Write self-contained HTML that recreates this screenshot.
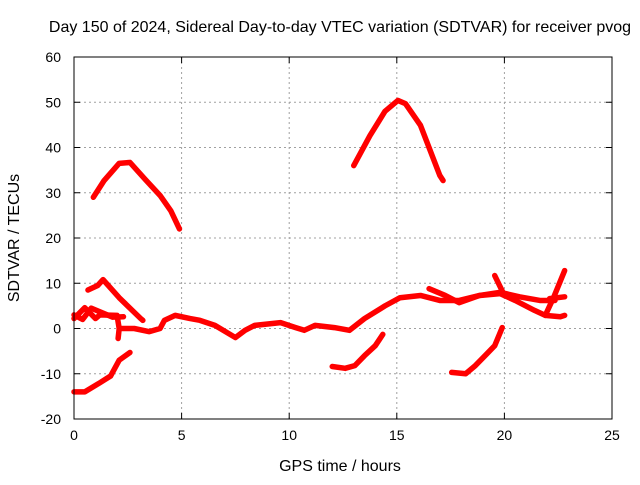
<!DOCTYPE html>
<html><head><meta charset="utf-8"><style>
body{margin:0;background:#fff;font-family:"Liberation Sans",sans-serif}
svg text{font-family:"Liberation Sans",sans-serif;font-size:14px;fill:#000}
svg text.big{font-size:16px}
</style></head><body>
<svg id="chart" width="640" height="480">
<text class="big" x="340" y="32" text-anchor="middle">Day 150 of 2024, Sidereal Day-to-day VTEC variation (SDTVAR) for receiver pvog</text>
<text class="big" x="340" y="471" text-anchor="middle">GPS time / hours</text>
<text class="big" transform="translate(19,238) rotate(-90)" text-anchor="middle">SDTVAR / TECUs</text>
<g id="grid"></g><g id="ticks"></g><g id="series"></g>
<rect x="74" y="57" width="538" height="362" fill="none" stroke="#000" stroke-width="1"/>
</svg>
<script>
const xTicks=[0,5,10,15,20,25];
const yTicks=[-20,-10,0,10,20,30,40,50,60];
const arcMorning=[[0.9,29],[1.4,32.7],[2.1,36.5],[2.6,36.7],[3.3,33],[4,29.4],[4.5,26],[4.9,22]];
const arcAfternoon=[[13,36],[13.75,42.6],[14.45,48],[15.05,50.4],[15.4,49.7],[16.1,44.9],[17,33.8],[17.15,32.7]];
const lowEarly=[[0,-14],[0.5,-14],[1.2,-12],[1.7,-10.5],[2.1,-7],[2.6,-5.3]];
const peakEarly=[[0.65,8.5],[1.1,9.5],[1.35,10.8],[2.1,6.8],[3.1,2.2],[3.2,1.8]];
const mainTrack=[[0,2.2],[0.5,4.6],[1,2.2],[1.2,3],[2,2.9],[2.1,0],[2.05,-2.2],[2.1,0],[2.8,0],[3.5,-0.7],[4,0],[4.2,1.8],[4.7,2.9],[5.4,2.2],[5.85,1.8],[6.55,0.7],[7.5,-2],[7.95,-0.4],[8.4,0.7],[9.6,1.3],[10.3,0.2],[10.7,-0.4],[11.2,0.7],[12.1,0.2],[12.8,-0.4],[13.5,2.2],[14.45,5],[15.15,6.8],[16.1,7.3],[17,6.2],[17.9,6.2],[18.85,7.3],[19.8,7.7],[20.5,6.2],[21.4,4],[21.9,2.9],[22.6,2.6],[22.8,2.9]];
const earlyBranch=[[0,3],[0.4,2],[0.8,4.5],[1.3,3.5],[1.8,2.5],[2.3,2.6]];
const lateTrack=[[16.5,8.8],[17.25,7.3],[17.9,5.7],[18.85,7.3],[19.8,8],[20.7,7],[21.65,6.2],[22.35,6.2]];
const spikeLate=[[21.9,2.9],[22.3,7],[22.8,12.8]];
const spikeMid=[[19.55,11.7],[20,7.3]];
const tailLate=[[22.1,6.6],[22.8,7]];
const lowNoon=[[12,-8.4],[12.6,-8.8],[13.05,-8.2],[13.5,-6],[14,-3.8],[14.35,-1.3]];
const lowEvening=[[17.55,-9.7],[18.2,-10],[18.65,-8.2],[19.1,-6],[19.55,-3.8],[19.9,0.2]];
const seriesList=[arcMorning,arcAfternoon,lowEarly,peakEarly,mainTrack,earlyBranch,lateTrack,spikeLate,spikeMid,tailLate,lowNoon,lowEvening];
const NS="http://www.w3.org/2000/svg";
const X0=74,X1=612,Y0=419,Y1=57;
function sx(h){return X0+(h-0)/(25-0)*(X1-X0);}
function sy(v){return Y0-(v+20)/(80)*(Y0-Y1);}
const grid=document.getElementById('grid'),ticks=document.getElementById('ticks'),ser=document.getElementById('series');
function mk(tag,attrs,parent){const e=document.createElementNS(NS,tag);for(const k in attrs)e.setAttribute(k,attrs[k]);parent.appendChild(e);return e;}
xTicks.forEach(t=>{const x=sx(t);
 if(t>0&&t<25){const g=mk('line',{x1:x,x2:x,y1:Y1,y2:Y0,stroke:'#a0a0a0','stroke-dasharray':'2,3'},grid);
 
 }
 mk('line',{x1:x,x2:x,y1:Y0,y2:Y0-6,stroke:'#000'},ticks);mk('line',{x1:x,x2:x,y1:Y1,y2:Y1+6,stroke:'#000'},ticks);
 const l=mk('text',{x:x,y:Y0+21,'text-anchor':'middle'},ticks);l.textContent=t;
 
 });
yTicks.forEach(t=>{const y=sy(t);
 if(t>-20&&t<60){const g=mk('line',{x1:X0,x2:X1,y1:y,y2:y,stroke:'#a0a0a0','stroke-dasharray':'2,3'},grid);
 
 }
 mk('line',{x1:X0,x2:X0+6,y1:y,y2:y,stroke:'#000'},ticks);mk('line',{x1:X1,x2:X1-6,y1:y,y2:y,stroke:'#000'},ticks);
 const l=mk('text',{x:X0-13,y:y+5,'text-anchor':'end'},ticks);l.textContent=t;
 
 });
seriesList.forEach(s=>{const p=mk('polyline',{points:s.map(d=>sx(d[0])+','+sy(d[1])).join(' '),fill:'none',stroke:'#ff0000','stroke-width':5.5,'stroke-linejoin':'round','stroke-linecap':'round'},ser);
 
 });
</script>
</body></html>
